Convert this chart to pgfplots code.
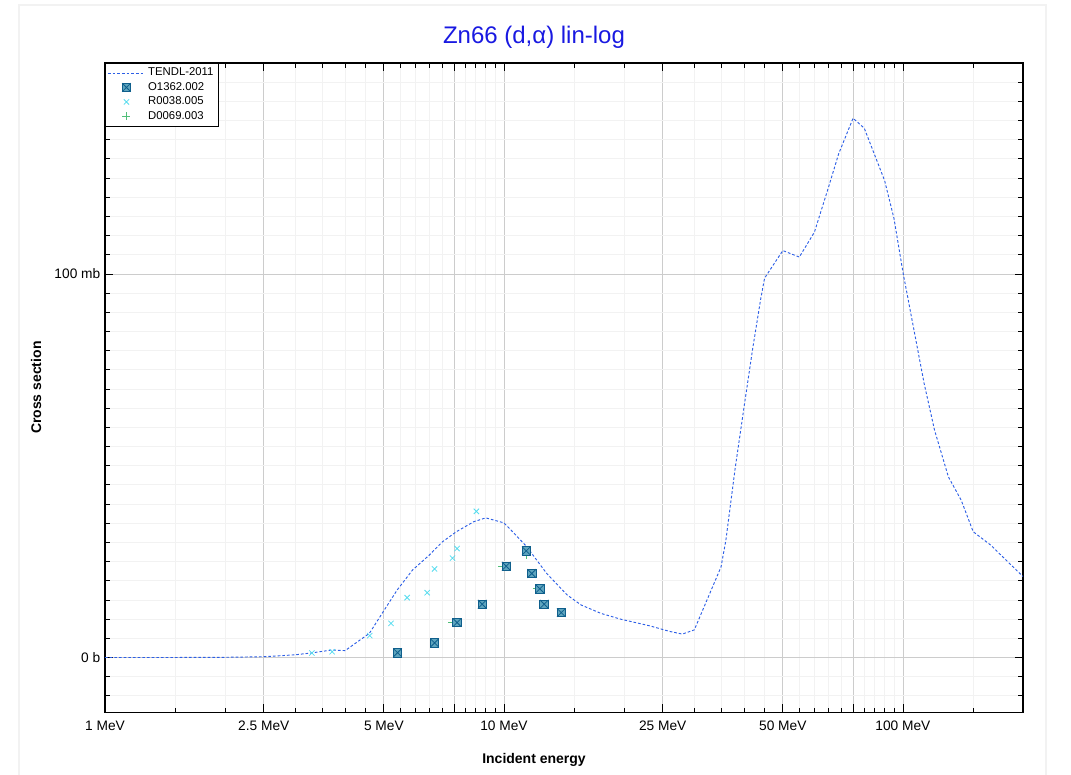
\documentclass[border=0pt]{standalone}
\usepackage{pgfplots}
\pgfplotsset{compat=1.18}
\usepackage{fontspec}
\setmainfont{Liberation Sans}
\usetikzlibrary{calc}

\definecolor{tendl}{RGB}{45,95,230}
\definecolor{oboxd}{RGB}{15,95,140}
\definecolor{oboxf}{RGB}{95,165,190}
\definecolor{rcyan}{RGB}{85,220,238}
\definecolor{dgreen}{RGB}{80,190,120}
\definecolor{ttl}{RGB}{25,25,225}

% square with a cross inside
\pgfdeclareplotmark{boxx}{%
  \pgfpathrectangle{\pgfqpoint{-\pgfplotmarksize}{-\pgfplotmarksize}}{\pgfqpoint{2\pgfplotmarksize}{2\pgfplotmarksize}}%
  \pgfusepathqfillstroke
  \pgfpathmoveto{\pgfqpoint{-\pgfplotmarksize}{-\pgfplotmarksize}}%
  \pgfpathlineto{\pgfqpoint{\pgfplotmarksize}{\pgfplotmarksize}}%
  \pgfpathmoveto{\pgfqpoint{-\pgfplotmarksize}{\pgfplotmarksize}}%
  \pgfpathlineto{\pgfqpoint{\pgfplotmarksize}{-\pgfplotmarksize}}%
  \pgfusepathqstroke}

\begin{document}
\begin{tikzpicture}
\begin{axis}[
  scale only axis,
  width=688.5pt, height=487pt,
  xmode=log,
  xmin=1, xmax=200,
  ymin=-14.3, ymax=155,
  xtick={1,2.5,5,7.5,10,25,50,75,100},
  xticklabels={1 MeV,2.5 MeV,5 MeV,,10 MeV,25 MeV,50 MeV,,100 MeV},
  minor xtick={1.5,2,3,3.5,4,4.5,5.5,6,6.5,7,8,8.5,9,9.5,15,20,30,35,40,45,55,60,65,70,80,85,90,95,150,200},
  ytick={0,100},
  yticklabels={0 b,100 mb},
  minor ytick={-10,-5,...,150},
  grid=both,
  major grid style={gray!40, line width=0.6pt},
  minor grid style={gray!10, line width=0.6pt},
  tick align=inside,
  major tick length=6pt, minor tick length=3.5pt,
  tick style={black, line width=0.6pt},
  axis line style={black, line width=1pt},
  ticklabel style={font=\fontsize{10.3}{12}\selectfont},
  xticklabel style={yshift=-3pt},
  xlabel={Incident energy},
  ylabel={Cross section},
  label style={font=\fontsize{10.5}{12}\selectfont\bfseries},
  xlabel style={yshift=-10pt, xshift=-22.5pt},
  ylabel style={yshift=3pt},
  title={Zn66 (d,α) lin-log},
  title style={font=\fontsize{18}{21}\selectfont, text=ttl, at={(0.5,1)}, anchor=center, yshift=13.5pt, xshift=-22.5pt},
  legend style={at={(0,1)}, anchor=north west, draw=black, line width=0.6pt,
    font=\fontsize{8.5}{10}\selectfont, inner sep=1.5pt, row sep=-0.6pt},
  legend cell align=left,
  legend image code/.code={\draw[#1] plot coordinates {(0.49cm,0cm)};},
]
\coordinate (ll) at (rel axis cs:0,0);
\coordinate (ur) at (rel axis cs:1,1);

% TENDL-2011 evaluation
\addplot[tendl, line width=0.7pt, dash pattern=on 2pt off 1.5pt,
  legend image code/.code={\draw[draw=tendl, line width=0.7pt, dash pattern=on 2pt off 1.5pt] (0cm,0cm) -- (0.98cm,0cm);}] table {
E sig
1 0
1.5 0
2 0.05
2.5 0.2
3 0.7
3.3 1.2
3.7 1.95
4.0 1.8
4.6 6.3
5.0 12.2
5.4 17.6
5.9 22.8
6.5 26.7
7.0 30.1
7.6 32.8
8.4 35.4
9.0 36.4
10.0 35.1
10.6 32.4
11.4 28.9
12.8 21.9
14.4 16.3
15.6 13.7
17.5 11.5
19.6 10.0
23.3 8.2
26 6.8
28 6.1
30 7.2
35 23.6
36 30.6
38 49.5
40 65.5
42 80.4
44 93.4
45 98.9
50 106.1
55 104.4
60 110.9
65 122.4
69 131.3
75 140.6
80 138.0
90 124.3
95 114.4
100 100.5
113 71.5
120 59.3
130 47.1
140 41.0
150 32.8
166 29.3
183 25.0
200 21.1
};
\addlegendentry{TENDL-2011}

% D0069.003 (drawn beneath O1362)
\addplot[only marks, mark=+, mark size=3pt, draw=dgreen, line width=0.6pt, forget plot] table {
E sig
7.43 9.1
9.9 23.8
11.37 26.7
12.1 17.9
};

% O1362.002
\addplot[only marks, mark=boxx, mark size=3.2pt, draw=oboxd, fill=oboxf, line width=0.6pt] table {
E sig
5.41 1.25
6.70 3.8
7.63 9.1
8.82 13.9
10.13 23.8
11.37 27.8
11.74 21.9
12.30 17.9
12.61 13.9
13.92 11.7
};
\addlegendentry{O1362.002}

% R0038.005
\addplot[only marks, mark=x, mark size=2.8pt, draw=rcyan, line width=0.6pt] table {
E sig
3.30 1.17
3.71 1.5
4.61 5.7
5.21 8.9
5.72 15.6
6.42 16.9
6.70 23.1
7.43 25.9
7.63 28.4
8.53 38.1
};
\addlegendentry{R0038.005}

\addlegendimage{only marks, mark=+, mark size=3pt, draw=dgreen, line width=0.6pt}
\addlegendentry{D0069.003}
\end{axis}

\draw[gray!10, line width=0.8pt] ($(ll)+(-64.5pt,-80pt)$) |- ($(ur)+(17.25pt,43.5pt)$) -- ($(ur|-ll)+(17.25pt,-80pt)$);
\pgfresetboundingbox
\path ($(ll)+(-78.75pt,-46.3pt)$) rectangle ($(ur)+(36pt,47.25pt)$);
\end{tikzpicture}
\end{document}
